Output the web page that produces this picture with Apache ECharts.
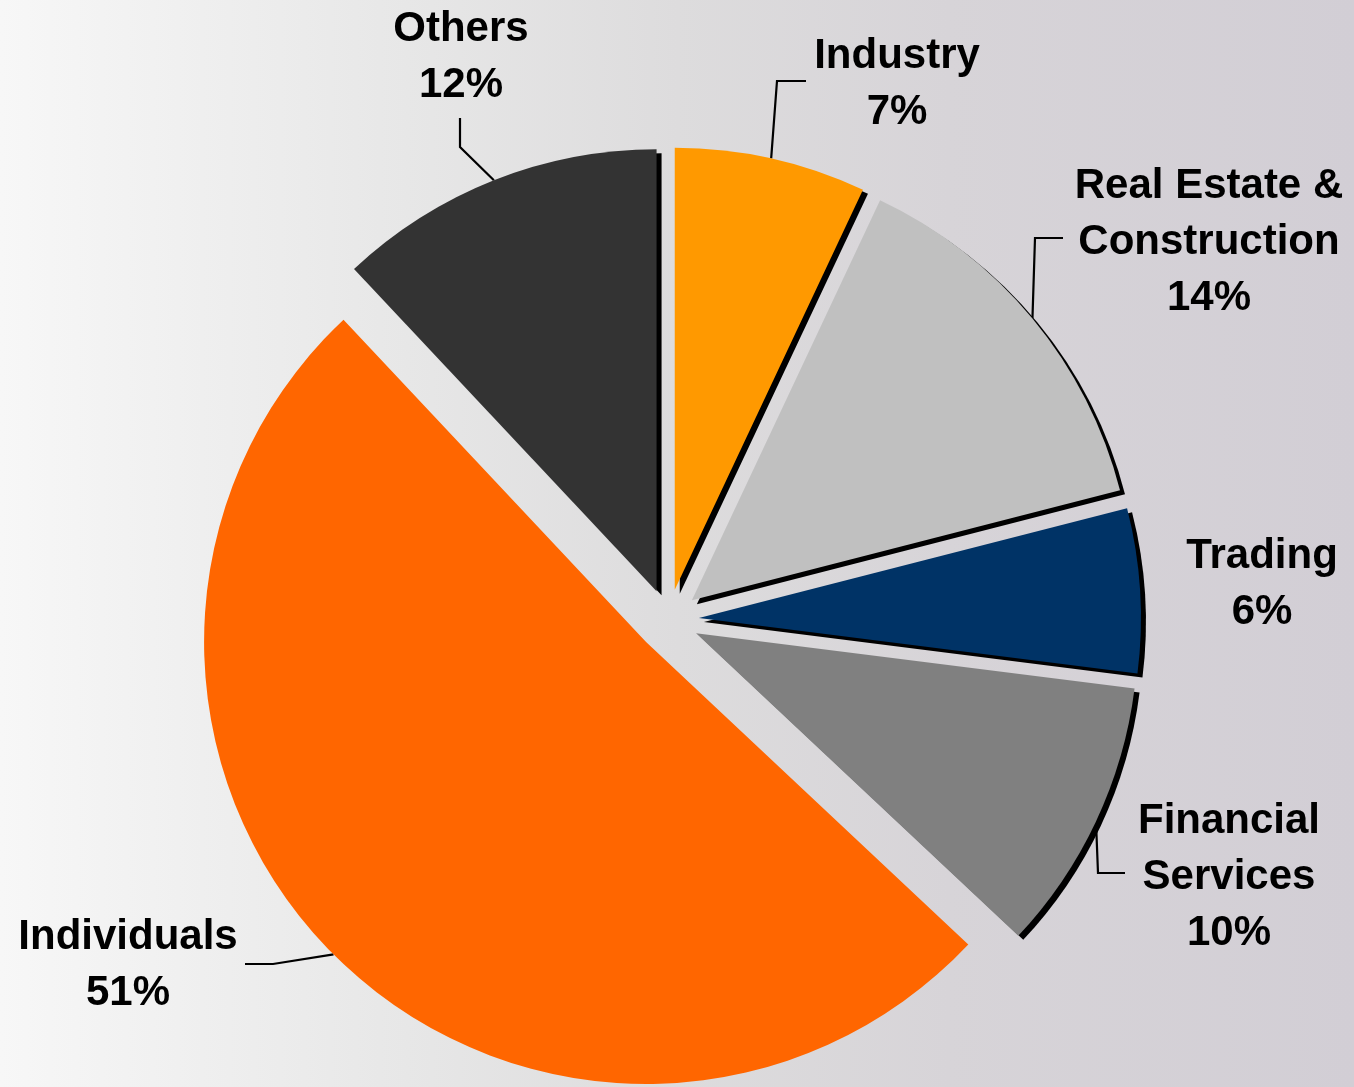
<!DOCTYPE html>
<html>
<head>
<meta charset="utf-8">
<title>Loan portfolio by sector</title>
<script src="https://cdn.jsdelivr.net/npm/echarts@6/dist/echarts.min.js"></script>
<style>
  html, body { margin: 0; padding: 0; }
  #chart {
    width: 1354px;
    height: 1087px;
    background: linear-gradient(to right, #F7F7F7 0%, #EFEFEF 15%, #E7E7E7 30%, #DDDCDD 50%, #D7D4D8 70%, #D2CED5 100%);
  }
</style>
</head>
<body>
<div id="chart"></div>
<script>
// Sector breakdown (percent of total), clockwise from 12 o'clock
const sectors = ['Industry', 'Real Estate & Construction', 'Trading', 'Financial Services', 'Individuals', 'Others'];
const shares = [7, 14, 6, 10, 51, 12];
const sliceColors = ['#FF9900', '#C0C0C0', '#003366', '#808080', '#FF6600', '#333333'];
const hasShadow = [true, true, true, true, false, true];

// Pie geometry
const pieCenter = [668, 620];
const pieRadius = 442;
const explode = 31;

// Label anchors (text block centre-x / top-y) and leader line bends
const labelSpots = {
  'Industry': { x: 897, y: 28, line: [[777, 81], [806, 81]] },
  'Real Estate & Construction': { x: 1209, y: 158, line: [[1035, 238], [1063, 238]] },
  'Trading': { x: 1262, y: 528, line: null },
  'Financial Services': { x: 1229, y: 793, line: [[1098, 873], [1125, 873]] },
  'Individuals': { x: 128, y: 909, line: [[273, 964], [245, 964]] },
  'Others': { x: 461, y: 1, line: [[460, 147], [460, 118]] }
};

function wrapName(name) {
  return name.replace('& ', '&\n').replace('Financial ', 'Financial\n');
}

const total = shares.reduce((a, b) => a + b, 0);
let cumulative = 0;
const series = sectors.map((name, i) => {
  const mid = (cumulative + shares[i] / 2) / total * Math.PI * 2;
  cumulative += shares[i];
  const cx = pieCenter[0] + Math.sin(mid) * explode;
  const cy = pieCenter[1] - Math.cos(mid) * explode;
  const spot = labelSpots[name];
  return {
    type: 'pie',
    radius: pieRadius,
    center: [cx, cy],
    startAngle: 90,
    clockwise: true,
    avoidLabelOverlap: false,
    silent: true,
    animation: false,
    emphasis: { disabled: true },
    data: sectors.map((n, j) => {
      if (j !== i) {
        return {
          name: n,
          value: shares[j],
          itemStyle: { color: 'rgba(0,0,0,0)', borderWidth: 0 },
          label: { show: false },
          labelLine: { show: false }
        };
      }
      return {
        name: n,
        value: shares[j],
        itemStyle: {
          color: sliceColors[j],
          borderWidth: 0,
          shadowColor: hasShadow[j] ? '#000000' : 'rgba(0,0,0,0)',
          shadowBlur: 0,
          shadowOffsetX: hasShadow[j] ? 5 : 0,
          shadowOffsetY: hasShadow[j] ? 4 : 0
        },
        label: {
          show: true,
          position: 'outside',
          formatter: (p) => wrapName(p.name) + '\n' + p.value + '%',
          fontFamily: 'Liberation Sans, Arial, sans-serif',
          fontWeight: 'bold',
          fontSize: 42,
          lineHeight: 56,
          color: '#000000',
          align: 'center'
        },
        labelLine: {
          show: !!spot.line,
          lineStyle: { color: '#000000', width: 2.2 }
        }
      };
    }),
    labelLayout: (params) => {
      const s = labelSpots[sectors[params.dataIndex]];
      const out = { x: s.x, y: s.y, align: 'center', verticalAlign: 'top' };
      if (s.line && params.labelLinePoints) {
        out.labelLinePoints = [params.labelLinePoints[0], s.line[0], s.line[1]];
      }
      return out;
    }
  };
});

const chart = echarts.init(document.getElementById('chart'), null, { renderer: 'canvas' });
chart.setOption({
  backgroundColor: 'transparent',
  animation: false,
  tooltip: { show: false },
  series: series
});
</script>
</body>
</html>
